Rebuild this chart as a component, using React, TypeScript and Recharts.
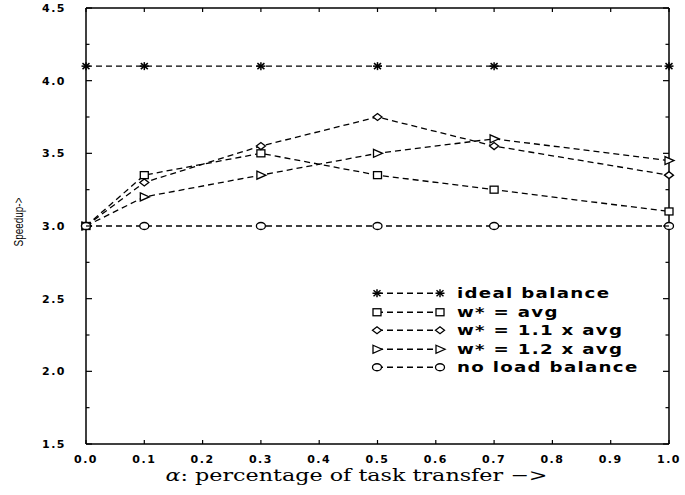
import React from 'react';
import { LineChart, Line, XAxis, YAxis, Legend } from 'recharts';

const alphaValues = [0, 0.1, 0.3, 0.5, 0.7, 1.0];
const idealBalance = [4.1, 4.1, 4.1, 4.1, 4.1, 4.1];
const wAvg = [3.0, 3.35, 3.5, 3.35, 3.25, 3.1];
const w11Avg = [3.0, 3.3, 3.55, 3.75, 3.55, 3.35];
const w12Avg = [3.0, 3.2, 3.35, 3.5, 3.6, 3.45];
const noLoadBalance = [3.0, 3.0, 3.0, 3.0, 3.0, 3.0];
const xTicks = [0, 0.1, 0.2, 0.3, 0.4, 0.5, 0.6, 0.7, 0.8, 0.9, 1.0];
const yTicks = [1.5, 1.75, 2.0, 2.25, 2.5, 2.75, 3.0, 3.25, 3.5, 3.75, 4.0, 4.25, 4.5];
const seriesKeys = ['ideal', 'wAvg', 'w11', 'w12', 'noLB'];
const seriesLabels = ['ideal balance', 'w* = avg', 'w* = 1.1 x avg', 'w* = 1.2 x avg', 'no load balance'];
const seriesMarkers = ['star', 'square', 'diamond', 'triangle', 'circle'];
const xTitle = 'percentage of task transfer \u2212>';
const yTitle = 'Speedup->';

const seriesValues = [idealBalance, wAvg, w11Avg, w12Avg, noLoadBalance];
const data = alphaValues.map((a, i) => {
  const row: any = { alpha: a };
  seriesKeys.forEach((k, j) => { row[k] = seriesValues[j][i]; });
  return row;
});

const tickFont: React.CSSProperties = {
  fontFamily: "'DejaVu Sans', sans-serif",
  fontWeight: 'bold',
  fontSize: 11,
  letterSpacing: 1.5,
  fill: '#000',
};

function Marker({ kind, cx, cy }: { kind: string; cx: number; cy: number }) {
  const s = { stroke: '#000', strokeWidth: 1.3, fill: '#fff' };
  if (cx == null || cy == null) return null;
  switch (kind) {
    case 'star':
      return (
        <g stroke="#000" strokeWidth={1.5}>
          <line x1={cx - 4.5} y1={cy} x2={cx + 4.5} y2={cy} />
          <line x1={cx} y1={cy - 4} x2={cx} y2={cy + 4} />
          <line x1={cx - 3.5} y1={cy - 3} x2={cx + 3.5} y2={cy + 3} />
          <line x1={cx - 3.5} y1={cy + 3} x2={cx + 3.5} y2={cy - 3} />
        </g>
      );
    case 'square':
      return <rect x={cx - 4} y={cy - 3.5} width={8} height={7} {...s} />;
    case 'diamond':
      return <polygon points={`${cx - 4.5},${cy} ${cx},${cy - 3.5} ${cx + 4.5},${cy} ${cx},${cy + 3.5}`} {...s} />;
    case 'triangle':
      return <polygon points={`${cx - 4},${cy - 4} ${cx + 5},${cy} ${cx - 4},${cy + 4}`} {...s} />;
    default:
      return <ellipse cx={cx} cy={cy} rx={4.5} ry={3.5} {...s} />;
  }
}

function XTickBottom(props: any) {
  const { x, y, payload } = props;
  return (
    <g>
      <line x1={x} y1={y} x2={x} y2={y - 4} stroke="#000" strokeWidth={1.2} />
      <text x={x} y={y + 15} dy="0.35em" textAnchor="middle" style={tickFont}>
        {Number(payload.value).toFixed(1)}
      </text>
    </g>
  );
}

function XTickTop(props: any) {
  const { x, y } = props;
  return <line x1={x} y1={y} x2={x} y2={y + 4} stroke="#000" strokeWidth={1.2} />;
}

function isMajor(v: number) {
  return Math.abs(v * 2 - Math.round(v * 2)) < 1e-6;
}

function YTickLeft(props: any) {
  const { x, y, payload } = props;
  const v = Number(payload.value);
  const major = isMajor(v);
  return (
    <g>
      <line x1={x} y1={y} x2={x + (major ? 6 : 3.5)} y2={y} stroke="#000" strokeWidth={1.2} />
      {major && (
        <text x={x - 20} y={y} dy="0.35em" textAnchor="end" style={tickFont}>
          {v.toFixed(1)}
        </text>
      )}
    </g>
  );
}

function YTickRight(props: any) {
  const { x, y, payload } = props;
  const major = isMajor(Number(payload.value));
  return <line x1={x} y1={y} x2={x - (major ? 6 : 3.5)} y2={y} stroke="#000" strokeWidth={1.2} />;
}

function XTitle(props: any) {
  const vb = props.viewBox || { x: 86, y: 444, width: 584, height: 51 };
  const cx = vb.x + vb.width * 0.464;
  return (
    <text
      x={cx}
      y={vb.y + 37}
      textAnchor="middle"
      textLength={382}
      lengthAdjust="spacingAndGlyphs"
      style={{ fontFamily: "'DejaVu Serif', serif", fontSize: 17, fill: '#000' }}
    >
      <tspan fontStyle="italic">α</tspan>
      <tspan>{':  '}</tspan>
      <tspan>{xTitle}</tspan>
    </text>
  );
}

function YTitle() {
  const cy = 222;
  const cx = 19;
  return (
    <text
      x={cx}
      y={cy}
      transform={`rotate(-90 ${cx} ${cy})`}
      textAnchor="middle"
      dy="0.35em"
      textLength={49}
      lengthAdjust="spacingAndGlyphs"
      style={{ fontFamily: "'Liberation Sans', Arial, sans-serif", fontSize: 12, fill: '#000' }}
    >
      {yTitle}
    </text>
  );
}

function LegendContent() {
  const rowH = 18.5;
  return (
    <div style={{ display: 'flex', flexDirection: 'column' }}>
      {seriesLabels.map((label, i) => (
        <div key={label} style={{ display: 'flex', alignItems: 'center', height: rowH }}>
          <svg width={88} height={rowH} style={{ display: 'block', overflow: 'visible' }}>
            <line x1={8} y1={rowH / 2} x2={71} y2={rowH / 2} stroke="#000" strokeWidth={1.3} strokeDasharray="6 4" />
            <Marker kind={seriesMarkers[i]} cx={8} cy={rowH / 2} />
            <Marker kind={seriesMarkers[i]} cx={71} cy={rowH / 2} />
          </svg>
          <span
            style={{
              fontFamily: "'DejaVu Sans', sans-serif",
              fontWeight: 'bold',
              fontSize: 14,
              letterSpacing: 1,
              whiteSpace: 'nowrap',
              display: 'inline-block',
              transform: 'scaleX(1.3)',
              transformOrigin: 'left center',
              lineHeight: `${rowH}px`,
              color: '#000',
            }}
          >
            {label}
          </span>
        </div>
      ))}
    </div>
  );
}

export default function App() {
  return (
    <div style={{ position: 'absolute', left: 0, top: 0, background: '#fff' }}>
      <LineChart width={685} height={495} data={data} margin={{ top: 7, right: 15, bottom: 0, left: 0 }}>
        <XAxis
          xAxisId="b"
          dataKey="alpha"
          type="number"
          domain={[0, 1]}
          ticks={xTicks}
          interval={0}
          tickSize={0}
          tickMargin={0}
          tickLine={false}
          axisLine={{ stroke: '#000', strokeWidth: 1.5 }}
          height={51}
          tick={<XTickBottom />}
          label={<XTitle />}
        />
        <XAxis
          xAxisId="t"
          dataKey="alpha"
          orientation="top"
          type="number"
          domain={[0, 1]}
          ticks={xTicks}
          interval={0}
          tickSize={0}
          tickMargin={0}
          tickLine={false}
          axisLine={{ stroke: '#000', strokeWidth: 1.5 }}
          height={1}
          tick={<XTickTop />}
        />
        <YAxis
          yAxisId="l"
          type="number"
          domain={[1.5, 4.5]}
          ticks={yTicks}
          interval={0}
          tickSize={0}
          tickMargin={0}
          tickLine={false}
          axisLine={{ stroke: '#000', strokeWidth: 1.5 }}
          width={86}
          tick={<YTickLeft />}
          label={<YTitle />}
        />
        <YAxis
          yAxisId="r"
          orientation="right"
          type="number"
          domain={[1.5, 4.5]}
          ticks={yTicks}
          interval={0}
          tickSize={0}
          tickMargin={0}
          tickLine={false}
          axisLine={{ stroke: '#000', strokeWidth: 1.5 }}
          width={1}
          tick={<YTickRight />}
        />
        <Line
          xAxisId="t"
          yAxisId="r"
          dataKey="noLB"
          stroke="none"
          dot={false}
          activeDot={false}
          legendType="none"
          isAnimationActive={false}
        />
        {seriesKeys.map((k, i) => (
          <Line
            key={k}
            xAxisId="b"
            yAxisId="l"
            dataKey={k}
            name={seriesLabels[i]}
            type="linear"
            stroke="#000"
            strokeWidth={1.3}
            strokeDasharray="6 4"
            isAnimationActive={false}
            dot={(p: any) => <Marker key={`${k}-${p.index}`} kind={seriesMarkers[i]} cx={p.cx} cy={p.cy} />}
            activeDot={false}
          />
        ))}
        <Legend
          layout="vertical"
          align="center"
          verticalAlign="middle"
          content={<LegendContent />}
          wrapperStyle={{ left: 369, top: 284, width: 'auto', height: 'auto' }}
        />
      </LineChart>
    </div>
  );
}
